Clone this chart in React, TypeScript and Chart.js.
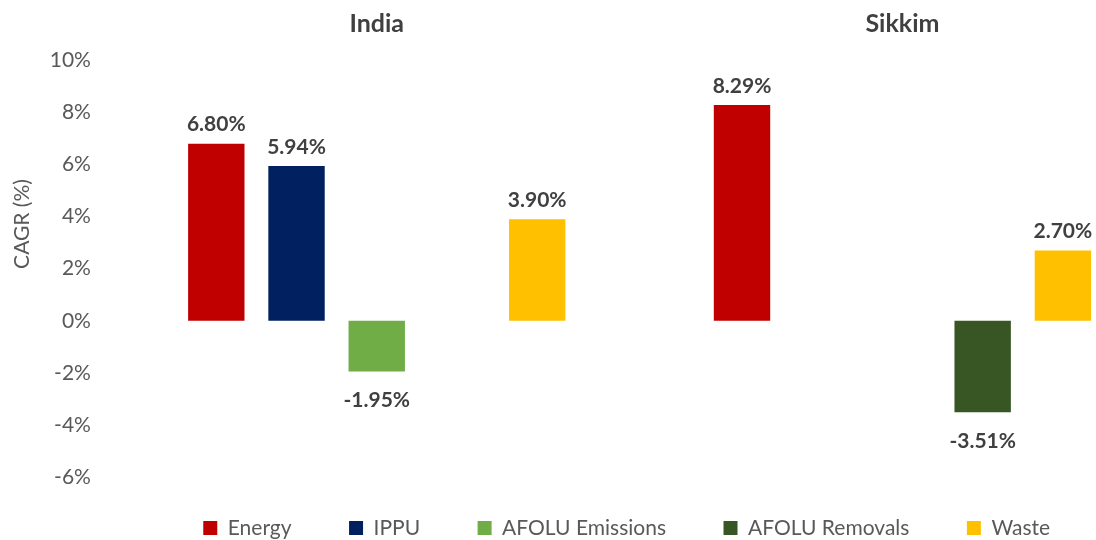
import React, { useEffect, useRef } from 'react';
import { Chart, registerables } from 'chart.js';

Chart.register(...registerables);

const categories = ['India', 'Sikkim'];
const seriesNames = ['Energy', 'IPPU', 'AFOLU Emissions', 'AFOLU Removals', 'Waste'];
const energy = [6.8, 8.29];
const ippu = [5.94, null];
const afoluEmissions = [-1.95, null];
const afoluRemovals = [null, -3.51];
const waste = [3.9, 2.7];
const yMin = -6;
const yMax = 10;
const yStep = 2;
const yTitle = 'CAGR (%)';

const seriesValues = [energy, ippu, afoluEmissions, afoluRemovals, waste];
const seriesColors = ['#C00000', '#002060', '#70AD47', '#375623', '#FFC000'];

const FONT = 'Lato';
const CANVAS_W = 1254;
const CANVAS_H = 540;
const LEGEND_PAD = 57.5;
const LEGEND_SHIFT = 17;

const dataLabelPlugin = {
  id: 'dataLabels',
  afterDatasetsDraw(chart: any) {
    const ctx = chart.ctx;
    ctx.save();
    ctx.font = `bold 21px ${FONT}`;
    ctx.fillStyle = '#404040';
    ctx.textAlign = 'center';
    ctx.textBaseline = 'middle';
    chart.data.datasets.forEach((ds: any, i: number) => {
      const meta = chart.getDatasetMeta(i);
      meta.data.forEach((bar: any, j: number) => {
        const v = ds.data[j];
        if (v === null || v === undefined) return;
        const { x, y } = bar.getProps(['x', 'y'], true);
        const text = `${v.toFixed(2)}%`;
        if (v >= 0) ctx.fillText(text, x, y - 19);
        else ctx.fillText(text, x, y + 29);
      });
    });
    ctx.restore();
  },
};

const yTitlePlugin = {
  id: 'yTitle',
  afterDraw(chart: any) {
    const ctx = chart.ctx;
    ctx.save();
    ctx.font = `21px ${FONT}`;
    ctx.fillStyle = '#595959';
    ctx.textAlign = 'center';
    ctx.textBaseline = 'middle';
    ctx.translate(22, 224);
    ctx.rotate(-Math.PI / 2);
    ctx.fillText(yTitle, 0, 0);
    ctx.restore();
  },
};

const legendShiftPlugin = {
  id: 'legendShift',
  afterLayout(chart: any) {
    const l = chart.legend;
    if (l) {
      l.top -= LEGEND_SHIFT;
      l.height += LEGEND_SHIFT;
    }
  },
};

export default function App() {
  const canvasRef = useRef<HTMLCanvasElement | null>(null);

  useEffect(() => {
    if (!canvasRef.current) return;
    const chart = new Chart(canvasRef.current, {
      type: 'bar',
      data: {
        labels: categories,
        datasets: seriesNames.map((name, i) => ({
          label: name,
          data: seriesValues[i],
          backgroundColor: seriesColors[i],
          borderWidth: 0,
          categoryPercentage: 0.763,
          barPercentage: 0.703,
        })),
      },
      options: {
        responsive: false,
        animation: false,
        devicePixelRatio: 1,
        layout: { padding: { left: 0, right: 0.7, top: 0, bottom: 0 } },
        scales: {
          x: {
            position: 'top',
            grid: { display: false, drawTicks: false },
            border: { display: false },
            ticks: {
              color: '#404040',
              padding: 21,
              font: { family: FONT, size: 25, weight: 'bold' },
            },
            afterFit: (s: any) => {
              s.height = 60.4;
            },
          },
          y: {
            position: 'left',
            min: yMin,
            max: yMax,
            grid: { display: false, drawTicks: false },
            border: { display: false },
            ticks: {
              stepSize: yStep,
              color: '#595959',
              padding: 23,
              font: { family: FONT, size: 21 },
              callback: (v: any) => `${v}%`,
            },
            afterFit: (s: any) => {
              s.width = 113.9;
            },
          },
          yRight: {
            type: 'linear',
            position: 'right',
            min: yMin,
            max: yMax,
            grid: { display: false, drawTicks: false },
            border: { display: false },
            ticks: { display: false },
            afterFit: (s: any) => {
              s.width = 88;
            },
          },
        },
        plugins: {
          legend: {
            position: 'bottom',
            maxHeight: 63,
            labels: {
              boxWidth: 14,
              boxHeight: 14,
              padding: LEGEND_PAD,
              color: '#595959',
              font: { family: FONT, size: 21 },
            },
          },
          tooltip: { enabled: false },
          title: { display: false },
        },
      } as any,
      plugins: [dataLabelPlugin, yTitlePlugin, legendShiftPlugin],
    });
    return () => chart.destroy();
  }, []);

  return (
    <div
      style={{
        position: 'fixed',
        left: 0,
        top: 0,
        width: 1096,
        height: 540,
        overflow: 'hidden',
        background: '#ffffff',
      }}
    >
      <canvas
        ref={canvasRef}
        width={CANVAS_W}
        height={CANVAS_H}
        style={{ display: 'block', width: CANVAS_W, height: CANVAS_H }}
      />
    </div>
  );
}
